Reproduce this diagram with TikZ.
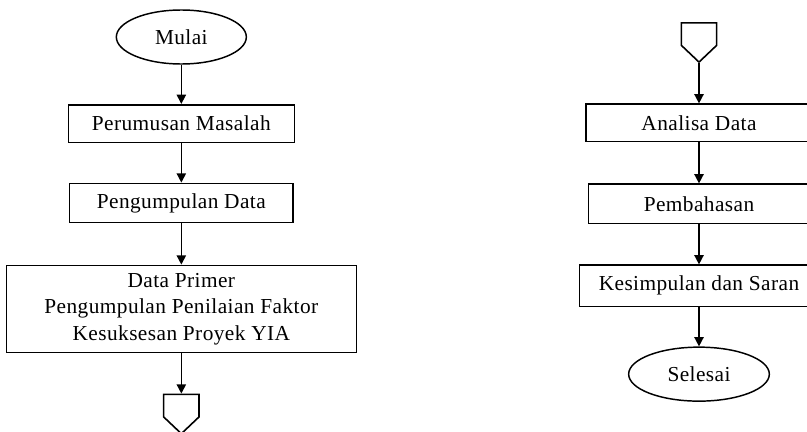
\documentclass[tikz,border=0pt]{standalone}
\usepackage{fontspec}
\setmainfont{Liberation Serif}[LetterSpace=2]
\usetikzlibrary{positioning, shapes.geometric, shapes.symbols, arrows.meta}

\begin{document}
\begin{tikzpicture}[font=\fontsize{16}{20}\selectfont,
	term/.style={ellipse, draw, line width=1.1pt, minimum width=97.5pt, minimum height=40.5pt},
	proses/.style={rectangle, draw, line width=1.2pt, minimum width=169.5pt, minimum height=28.4pt, align=center},
	sambung/.style={signal, signal to=south, signal pointer angle=93, draw, line width=1.2pt, minimum width=26.5pt, minimum height=16.9pt, inner sep=0pt},
	panah/.style={-{Triangle[length=7pt,width=7pt]}, line width=1.2pt}]
		\clip (0,0) rectangle (605.25pt,-324pt);

		% kolom kiri
		\node[term] (mulai) at (136pt,-27.75pt) {Mulai};
		\node[proses, below=29.4pt of mulai] (rumusan) {Perumusan Masalah};
		\node[proses, minimum width=167.5pt, minimum height=29.4pt, below=29.4pt of rumusan] (kumpul) {Pengumpulan Data};
		\node[proses, minimum width=262.5pt, minimum height=65.4pt, below=30.9pt of kumpul] (primer) {Data Primer\\Pengumpulan Penilaian Faktor\\Kesuksesan Proyek YIA};
		\node[sambung, below=30.15pt of primer] (konA) {};

		% kolom kanan
		\node[sambung, anchor=north] (konB) at (524.25pt,-16.5pt) {};
		\node[proses, minimum height=27.9pt, below=30.15pt of konB] (analisa) {Analisa Data};
		\node[proses, minimum width=165.5pt, minimum height=29.4pt, below=30.9pt of analisa] (bahas) {Pembahasan};
		\node[proses, minimum width=179.5pt, minimum height=30.9pt, below=30.15pt of bahas] (simpul) {Kesimpulan dan Saran};
		\node[term, minimum width=105.5pt, below=29.4pt of simpul] (selesai) {Selesai};

		\path[panah] (mulai) edge (rumusan);
		\path[panah] (rumusan) edge (kumpul);
		\path[panah] (kumpul) edge (primer);
		\path[panah] (primer) edge (konA);
		\path[panah] (konB) edge (analisa);
		\path[panah] (analisa) edge (bahas);
		\path[panah] (bahas) edge (simpul);
		\path[panah] (simpul) edge (selesai);
	\end{tikzpicture}
\end{document}
